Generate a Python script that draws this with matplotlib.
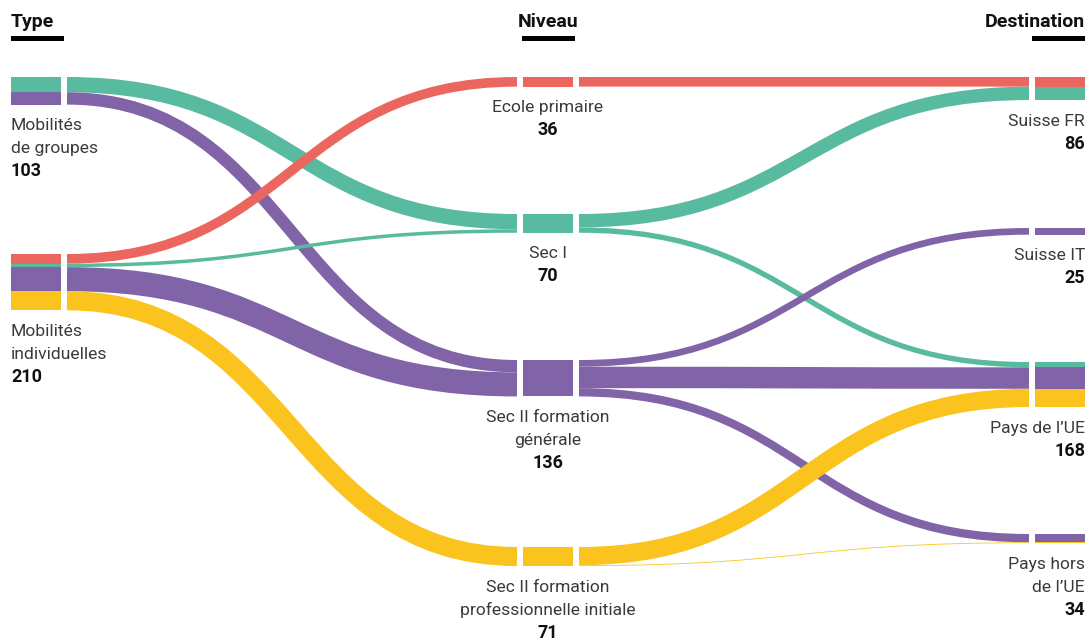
import numpy as np
import matplotlib.pyplot as plt
from matplotlib.path import Path
from matplotlib.patches import PathPatch, Rectangle

plt.rcParams['font.family'] = ['Roboto', 'DejaVu Sans']

# --- données ---
columns = ["Type", "Niveau", "Destination"]

type_nodes = ["groupes", "individuelles"]
niveau_nodes = ["primaire", "sec1", "sec2gen", "sec2pro"]
dest_nodes = ["fr", "it", "ue", "horsue"]

labels = {
    "groupes": ["Mobilités", "de groupes"],
    "individuelles": ["Mobilités", "individuelles"],
    "primaire": ["Ecole primaire"],
    "sec1": ["Sec I"],
    "sec2gen": ["Sec II formation", "générale"],
    "sec2pro": ["Sec II formation", "professionnelle initiale"],
    "fr": ["Suisse FR"],
    "it": ["Suisse IT"],
    "ue": ["Pays de l\u2019UE"],
    "horsue": ["Pays hors", "de l\u2019UE"],
}

# type -> niveau
flows_type_niveau = [
    ("groupes", "sec1", 57),
    ("groupes", "sec2gen", 46),
    ("individuelles", "primaire", 36),
    ("individuelles", "sec1", 13),
    ("individuelles", "sec2gen", 90),
    ("individuelles", "sec2pro", 71),
]
# niveau -> destination
flows_niveau_dest = [
    ("primaire", "fr", 36),
    ("sec1", "fr", 50),
    ("sec1", "ue", 20),
    ("sec2gen", "it", 25),
    ("sec2gen", "ue", 80),
    ("sec2gen", "horsue", 31),
    ("sec2pro", "ue", 68),
    ("sec2pro", "horsue", 3),
]

niveau_colors = {
    "primaire": "#EC6660",
    "sec1": "#58BB9F",
    "sec2gen": "#8163A8",
    "sec2pro": "#FBC31D",
}

# --- mise en page (pixels) ---
W, H, DPI = 1089, 640, 100
K = 0.268          # px par mobilité
NODE_W = 50
GAP = 6
col_x = [11, 523, 1035]
node_top = {
    "groupes": 77, "individuelles": 254,
    "primaire": 77, "sec1": 214, "sec2gen": 360, "sec2pro": 547,
    "fr": 77, "it": 228, "ue": 362, "horsue": 534,
}
node_col = {}
for i, nodes in enumerate([type_nodes, niveau_nodes, dest_nodes]):
    for n in nodes:
        node_col[n] = i

fig = plt.figure(figsize=(W / DPI, H / DPI), dpi=DPI)
ax = fig.add_axes([0, 0, 1, 1])
ax.set_xlim(0, W)
ax.set_ylim(H, 0)
ax.axis('off')

totals_out = {}
totals_in = {}
for s, t, v in flows_type_niveau + flows_niveau_dest:
    totals_out[s] = totals_out.get(s, 0) + v
    totals_in[t] = totals_in.get(t, 0) + v
totals = {n: max(totals_out.get(n, 0), totals_in.get(n, 0)) for n in node_col}

out_off = {n: 0.0 for n in node_col}
in_off = {n: 0.0 for n in node_col}

for s, t, v in flows_type_niveau + flows_niveau_dest:
    color = niveau_colors[t] if t in niveau_colors else niveau_colors[s]
    w = v * K
    ys = node_top[s] + out_off[s]
    yt = node_top[t] + in_off[t]
    # segments des noeuds extérieurs
    if node_col[s] == 0:
        ax.add_patch(Rectangle((col_x[0], ys), NODE_W, w, color=color, lw=0))
    if node_col[t] == 2:
        ax.add_patch(Rectangle((col_x[2], yt), NODE_W, w, color=color, lw=0))
    x0 = col_x[node_col[s]] + NODE_W + GAP
    x1 = col_x[node_col[t]] - GAP
    xm = (x0 + x1) / 2
    y0 = ys + w / 2
    y1 = yt + w / 2
    path = Path([(x0, y0), (xm, y0), (xm, y1), (x1, y1)],
                [Path.MOVETO, Path.CURVE4, Path.CURVE4, Path.CURVE4])
    ax.add_patch(PathPatch(path, fill=False, edgecolor=color,
                           lw=w * 72 / DPI, capstyle='butt'))
    out_off[s] += w
    in_off[t] += w

# noeuds du milieu
for n in niveau_nodes:
    ax.add_patch(Rectangle((col_x[1], node_top[n]), NODE_W, totals[n] * K,
                           color=niveau_colors[n], lw=0))

# étiquettes
LABEL_FS = 12.6
for n, col in node_col.items():
    if col == 0:
        x, ha = col_x[0], 'left'
    elif col == 1:
        x, ha = col_x[1] + NODE_W / 2, 'center'
    else:
        x, ha = col_x[2] + NODE_W, 'right'
    y = node_top[n] + totals[n] * K + 25.5
    for line in labels[n]:
        ax.text(x, y, line, ha=ha, va='baseline', fontsize=LABEL_FS,
                color='#3a3a3a', fontweight='normal')
        y += 23
    ax.text(x, y, str(totals[n]), ha=ha, va='baseline', fontsize=13,
            color='#111111', fontweight='bold')

# titres de colonnes
for i, name in enumerate(columns):
    if i == 0:
        x, ha, bx = col_x[0], 'left', col_x[0]
    elif i == 1:
        x, ha, bx = col_x[1] + NODE_W / 2, 'center', col_x[1] - 1.5
    else:
        x, ha, bx = col_x[2] + NODE_W, 'right', col_x[2] - 3
    ax.text(x, 27, name, ha=ha, va='baseline', fontsize=14,
            fontweight='bold', color='#111111')
    ax.add_patch(Rectangle((bx, 36), 53, 4.5, color='black', lw=0))

fig.savefig('out.png', dpi=DPI)
